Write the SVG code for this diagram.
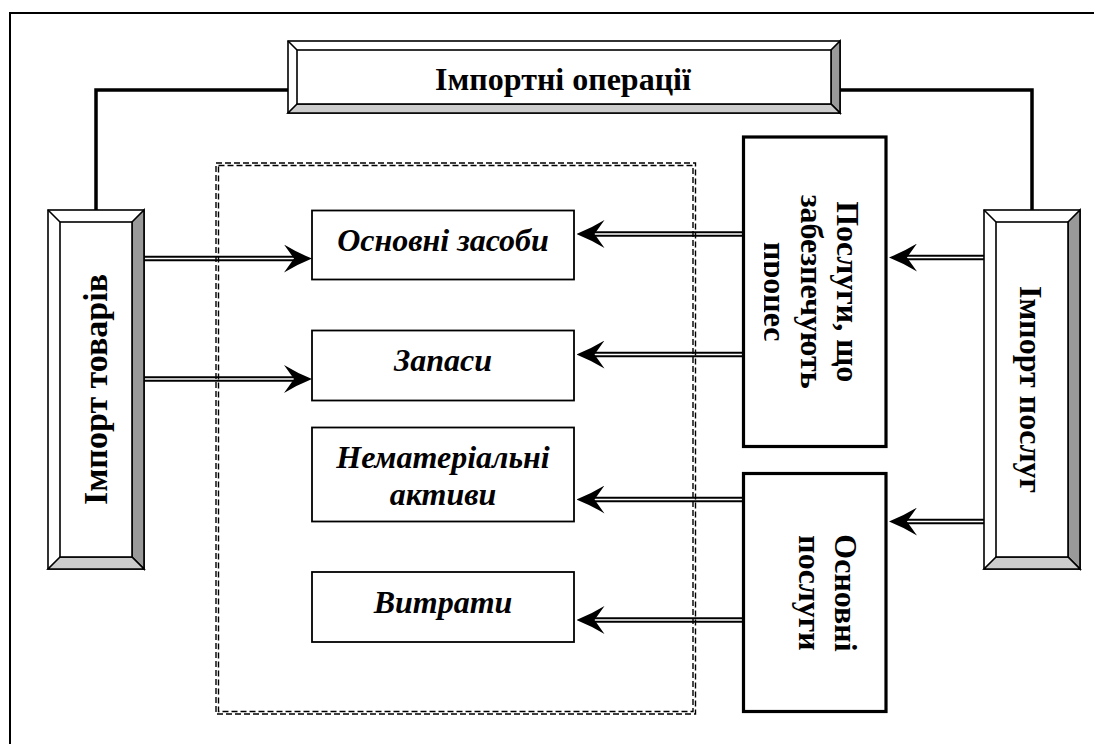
<svg xmlns="http://www.w3.org/2000/svg" width="1094" height="744" viewBox="0 0 1094 744">
<style>
.t{font-family:"Liberation Serif","Times New Roman",serif;font-weight:bold;font-size:32px;fill:#000;text-anchor:middle}
.ti{font-style:italic;font-size:32px}
.box{fill:#fff;stroke:#000;stroke-width:1.8}
.tbox{fill:#fff;stroke:#000;stroke-width:3.2}
.bv{stroke:#000;stroke-width:1.6;stroke-linejoin:miter}
.dash{fill:none;stroke:#000;stroke-width:1.4;stroke-dasharray:6 3}
.lo{stroke:#000;stroke-width:5.5;fill:none}
.li{stroke:#fff;stroke-width:1.6;fill:none;marker-end:url(#ah)}
.ln{stroke:#000;stroke-width:3.5;fill:none}
</style>
<defs>
<marker id="ah" markerUnits="userSpaceOnUse" viewBox="0 0 28 28" markerWidth="28" markerHeight="28" refX="10" refY="14" orient="auto">
<path d="M28,14 Q13,8 0,0 L10,14 L0,28 Q13,20 28,14 Z" fill="#000"/>
</marker>
<clipPath id="clipP" clipPathUnits="userSpaceOnUse"><rect x="764" y="137" width="122" height="310"/></clipPath>
</defs>
<rect width="1094" height="744" fill="#fff"/>
<path d="M10,744 V13 H1094" fill="none" stroke="#000" stroke-width="2"/>

<g id="connectors">
<path class="ln" d="M96,210 V90 H288"/>
<path class="ln" d="M840,90 H1032 V210"/>
<line class="lo" x1="144" y1="258.5" x2="294" y2="258.5"/><line class="li" x1="144" y1="258.5" x2="294" y2="258.5"/>
<line class="lo" x1="144" y1="379" x2="294" y2="379"/><line class="li" x1="144" y1="379" x2="294" y2="379"/>
<line class="lo" x1="743" y1="234" x2="594.5" y2="234"/><line class="li" x1="743" y1="234" x2="594.5" y2="234"/>
<line class="lo" x1="743" y1="354.5" x2="594.5" y2="354.5"/><line class="li" x1="743" y1="354.5" x2="594.5" y2="354.5"/>
<line class="lo" x1="743" y1="499.5" x2="594.5" y2="499.5"/><line class="li" x1="743" y1="499.5" x2="594.5" y2="499.5"/>
<line class="lo" x1="743" y1="620" x2="594.5" y2="620"/><line class="li" x1="743" y1="620" x2="594.5" y2="620"/>
<line class="lo" x1="984" y1="257.5" x2="907" y2="257.5"/><line class="li" x1="984" y1="257.5" x2="907" y2="257.5"/>
<line class="lo" x1="984" y1="521.5" x2="907" y2="521.5"/><line class="li" x1="984" y1="521.5" x2="907" y2="521.5"/>
</g>

<g id="group-frame">
<rect class="dash" x="216" y="163" width="479.5" height="551"/>
<rect class="dash" x="218.5" y="165.5" width="474.5" height="546"/>
</g>

<g id="node-import-ops">
<rect x="288" y="41" width="552" height="72" fill="#fff" stroke="#000" stroke-width="1.6"/>
<polygon class="bv" points="831,50 840,41 840,113 831,104" fill="#999"/>
<polygon class="bv" points="297,104 831,104 840,113 288,113" fill="#ccc"/>
<line x1="288" y1="41" x2="297" y2="50" stroke="#000" stroke-width="1.6"/>
<rect x="297" y="50" width="534" height="54" fill="#fff" stroke="#000" stroke-width="1.6"/>
<text class="t" x="563" y="90">Імпортні операції</text>
</g>

<g id="node-import-goods">
<rect x="48" y="210" width="96" height="359" fill="#fff" stroke="#000" stroke-width="1.6"/>
<polygon class="bv" points="132,222 144,210 144,569 132,557" fill="#999"/>
<polygon class="bv" points="60,557 132,557 144,569 48,569" fill="#ccc"/>
<line x1="48" y1="210" x2="60" y2="222" stroke="#000" stroke-width="1.6"/>
<rect x="60" y="222" width="72" height="335" fill="#fff" stroke="#000" stroke-width="1.6"/>
<text class="t" style="font-size:34px" transform="translate(107,389.5) rotate(-90)">Імпорт товарів</text>
</g>

<g id="node-import-services">
<rect x="984" y="210" width="96" height="359" fill="#fff" stroke="#000" stroke-width="1.6"/>
<polygon class="bv" points="1068,222 1080,210 1080,569 1068,557" fill="#999"/>
<polygon class="bv" points="996,557 1068,557 1080,569 984,569" fill="#ccc"/>
<line x1="984" y1="210" x2="996" y2="222" stroke="#000" stroke-width="1.6"/>
<rect x="996" y="222" width="72" height="335" fill="#fff" stroke="#000" stroke-width="1.6"/>
<text class="t" transform="translate(1020,389.5) rotate(90)">Імпорт послуг</text>
</g>

<g id="node-fixed-assets">
<rect class="box" x="312" y="210.5" width="262" height="69"/>
<text class="t ti" x="443" y="251">Основні засоби</text>
</g>
<g id="node-inventory">
<rect class="box" x="312" y="330.5" width="262" height="70"/>
<text class="t ti" x="443" y="371">Запаси</text>
</g>
<g id="node-intangible">
<rect class="box" x="312" y="427.5" width="262" height="94"/>
<text class="t ti" x="443" y="467.5">Нематеріальні</text>
<text class="t ti" x="443" y="504.5">активи</text>
</g>
<g id="node-expenses">
<rect class="box" x="312" y="572" width="262" height="70"/>
<text class="t ti" x="443" y="612.5">Витрати</text>
</g>

<g id="node-support-services">
<rect class="tbox" x="743.5" y="137" width="142.5" height="309.5"/>
<text class="t" transform="translate(837,291.7) rotate(90)">Послуги, що</text>
<text class="t" transform="translate(800.5,291.7) rotate(90)">забезпечують</text>
<g clip-path="url(#clipP)">
<text class="t" transform="translate(764,291.7) rotate(90)">процес</text>
</g>
</g>

<g id="node-main-services">
<rect class="tbox" x="743.5" y="473.5" width="142.5" height="238"/>
<text class="t" transform="translate(835,593) rotate(90)">Основні</text>
<text class="t" transform="translate(799,593) rotate(90)">послуги</text>
</g>
</svg>
